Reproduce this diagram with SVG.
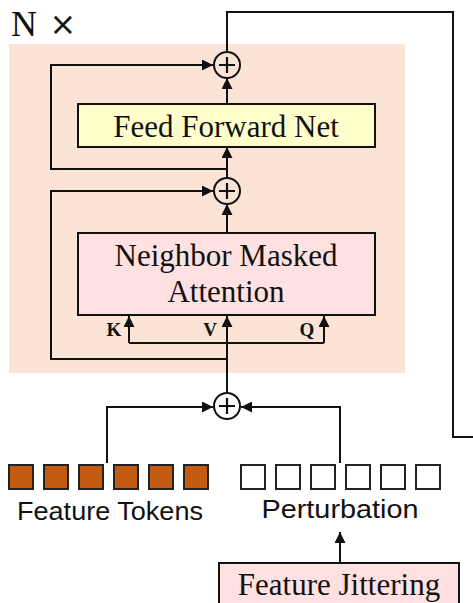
<svg xmlns="http://www.w3.org/2000/svg" width="473" height="603" viewBox="0 0 473 603">
<defs>
<marker id="ah" viewBox="0 0 10 10" refX="10" refY="5" markerWidth="11" markerHeight="11" markerUnits="userSpaceOnUse" orient="auto">
<path d="M0,0 L10,5 L0,10 Z" fill="#111"/>
</marker>
<style>
.ln{fill:none;stroke:#111;stroke-width:2}
.arr{fill:none;stroke:#111;stroke-width:2;marker-end:url(#ah)}
.box{stroke:#111;stroke-width:2}
.serif{font-family:"Liberation Serif","Times New Roman",serif;fill:#111}
.sans{font-family:"Liberation Sans",Arial,sans-serif;fill:#111}
.plus circle{fill:none;stroke:#111;stroke-width:2}
.plus path{stroke:#111;stroke-width:2.2}
.tok{fill:#C55A11;stroke:#222;stroke-width:2}
.pert{fill:#fff;stroke:#222;stroke-width:2}
</style>
</defs>
<rect x="9" y="44" width="396" height="329" fill="#FBE4D6"/>
<text class="serif" x="11" y="36" font-size="36">N <tspan font-size="42" dx="5" dy="3" stroke="#111" stroke-width="0.6">×</tspan></text>

<g id="connectors">
<path class="ln" d="M227,52 V12 H453 V437 H473"/>
<path class="arr" d="M227,104 V78"/>
<path class="arr" d="M227,178 V147"/>
<path class="arr" d="M227,169 H51 V65 H213"/>
<path class="arr" d="M227,233 V204"/>
<path class="arr" d="M227,359 H51 V191 H213"/>
<path class="arr" d="M227,393 V316"/>
<path class="arr" d="M129,343 V316"/>
<path class="arr" d="M324,343 V316"/>
<path class="ln" d="M129,343 H324"/>
<path class="arr" d="M107,463 V407 H213"/>
<path class="arr" d="M340,463 V407 H241"/>
<path class="arr" d="M340,563 V532"/>
</g>

<g id="add-top" class="plus"><circle cx="227" cy="65" r="13"/><path d="M219,65 H235 M227,57 V73"/></g>
<g id="add-mid" class="plus"><circle cx="227" cy="191" r="13"/><path d="M219,191 H235 M227,183 V199"/></g>
<g id="add-bottom" class="plus"><circle cx="227" cy="406" r="13"/><path d="M219,406 H235 M227,398 V414"/></g>

<g id="ffn">
<rect class="box" x="78" y="104" width="297" height="43" fill="#FFFFCC"/>
<text class="serif" x="226" y="137" font-size="31" text-anchor="middle">Feed Forward Net</text>
</g>

<g id="attention">
<rect class="box" x="78" y="233" width="297" height="82" fill="#FFE1E1"/>
<text class="serif" x="226" y="266" font-size="31" text-anchor="middle">Neighbor Masked</text>
<text class="serif" x="226" y="302" font-size="31" text-anchor="middle">Attention</text>
</g>

<g id="kvq">
<text class="serif" x="114" y="336" font-size="19" font-weight="bold" text-anchor="middle">K</text>
<text class="serif" x="210" y="336" font-size="19" font-weight="bold" text-anchor="middle">V</text>
<text class="serif" x="307" y="336" font-size="19" font-weight="bold" text-anchor="middle">Q</text>
</g>

<g id="feature-tokens">
<rect class="tok" x="9" y="465" width="24" height="24"/>
<rect class="tok" x="44" y="465" width="24" height="24"/>
<rect class="tok" x="79" y="465" width="24" height="24"/>
<rect class="tok" x="114" y="465" width="24" height="24"/>
<rect class="tok" x="149" y="465" width="24" height="24"/>
<rect class="tok" x="184" y="465" width="24" height="24"/>
<text class="sans" x="110" y="520" font-size="25" text-anchor="middle" textLength="186" lengthAdjust="spacingAndGlyphs">Feature Tokens</text>
</g>

<g id="perturbation">
<rect class="pert" x="241" y="465" width="24" height="24"/>
<rect class="pert" x="276" y="465" width="24" height="24"/>
<rect class="pert" x="311" y="465" width="24" height="24"/>
<rect class="pert" x="346" y="465" width="24" height="24"/>
<rect class="pert" x="381" y="465" width="24" height="24"/>
<rect class="pert" x="416" y="465" width="24" height="24"/>
<text class="sans" x="340" y="518" font-size="25" text-anchor="middle" textLength="157" lengthAdjust="spacingAndGlyphs">Perturbation</text>
</g>

<g id="feature-jittering">
<rect class="box" x="219" y="563" width="240" height="50" fill="#FFE1E1"/>
<text class="serif" x="339" y="595" font-size="31" text-anchor="middle">Feature Jittering</text>
</g>
</svg>
